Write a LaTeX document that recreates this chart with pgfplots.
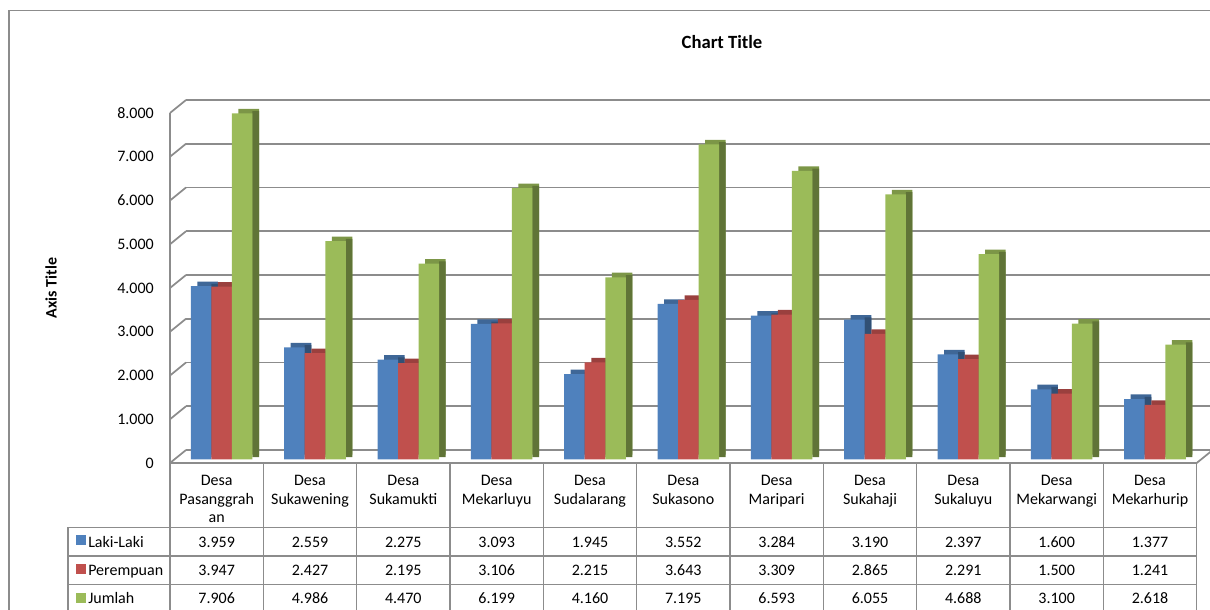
\documentclass[border=0pt]{standalone}
\usepackage{fontspec}
\setmainfont{Carlito}
\usepackage{pgfplots}
\pgfplotsset{compat=1.18}
\usepackage{pgfplotstable}

\definecolor{cblue}{HTML}{4F81BD}
\definecolor{cred}{HTML}{C0504D}
\definecolor{cgreen}{HTML}{9BBB59}
\definecolor{lgray}{RGB}{140,140,140}

\pgfplotstableread{
idx lk pr jm
0 3959 3947 7906
1 2559 2427 4986
2 2275 2195 4470
3 3093 3106 6199
4 1945 2215 4160
5 3552 3643 7195
6 3284 3309 6593
7 3190 2865 6055
8 2397 2291 4688
9 1600 1500 3100
10 1377 1241 2618
}\data

% #1 column, #2 colour, #3 top shift, #4 side shift, #5 front shift
\newcommand\barseries[5]{%
  \addplot[ybar, bar width=15.4pt, bar shift=#3pt, xshift=3.75pt, yshift=6.2pt, fill=#2!80!black, draw=none] table[x=idx,y=#1]{\data};
  \addplot[ybar, bar width=4.9pt, bar shift=#4pt, xshift=3.75pt, yshift=4.5pt, fill=#2!62!black, draw=none] table[x=idx,y=#1]{\data};
  \addplot[ybar, bar width=15.4pt, bar shift=#5pt, xshift=3.75pt, yshift=2.8pt, fill=#2, draw=none] table[x=idx,y=#1]{\data};
}

\begin{document}
\begin{tikzpicture}
\useasboundingbox (0pt,0pt) rectangle (907.5pt,-457.5pt);
\clip (0pt,0pt) rectangle (907.5pt,-457.5pt);

% back wall grid
\begin{axis}[
  at={(139.5pt,-337.5pt)}, anchor=south west,
  scale only axis, width=770pt, height=262.5pt,
  xmin=-0.5, xmax=10.5, ymin=0, ymax=8000,
  ytick={0,1000,...,8000}, yticklabels={}, xtick=\empty,
  ymajorgrids, major grid style={lgray, line width=1.3pt},
  major tick length=0pt, axis line style={draw=none}, clip=false,
]
\end{axis}

% front axis with bars
\begin{axis}[
  at={(127.5pt,-347.25pt)}, anchor=south west,
  scale only axis, width=770pt, height=262.5pt,
  xmin=-0.5, xmax=10.5, ymin=0, ymax=8000,
  ytick={0,1000,...,8000}, xtick=\empty,
  /pgf/number format/1000 sep={.},
  /pgf/number format/assume math mode=true,
  yticklabel style={font=\fontsize{12}{14}\selectfont, inner sep=0pt, anchor=east, xshift=-12pt},
  major tick length=0pt, axis line style={draw=none}, clip=false,
]
\barseries{lk}{cblue}{-10.5}{-5.25}{-15.4}
\barseries{pr}{cred}{4.9}{10.15}{0}
\barseries{jm}{cgreen}{20.3}{25.55}{15.4}
\end{axis}

\begin{scope}[x=0.75pt, y=-0.75pt, font=\fontsize{12}{13.9}\selectfont]
  % outer border
  \draw[lgray, line width=1.1pt] (9,10.7) rectangle (1240,650);
  % title
  \node[font=\fontsize{14}{17}\selectfont\bfseries] at (722,42) {Chart Title};
  \node[font=\fontsize{12}{14}\selectfont\bfseries, rotate=90] at (51,288) {Axis Title};
  % left wall connectors
  \foreach \k in {0,...,8} {
    \draw[lgray, line width=1.3pt] (170,{463-43.75*\k}) -- (186,{450-43.75*\k});
  }
  \draw[lgray, line width=1.3pt] (170,113) -- (170,615);
  \draw[lgray, line width=1.3pt] (170,463) -- (1196.7,463) -- (1212.7,450);
  % table lines
  \foreach \yy in {527.3,556,584.7} {
    \draw[lgray, line width=1.1pt] (68,\yy) -- (1196.7,\yy);
  }
  \draw[lgray, line width=1.1pt] (68,527.3) -- (68,615);
  \foreach \k in {1,...,11} {
    \draw[lgray, line width=1.1pt] ({170+93.333*\k},463) -- ({170+93.333*\k},615);
  }
  % header
  \foreach \i/\name in {0/{Desa\\Pasanggrah\\an},1/{Desa\\Sukawening},2/{Desa\\Sukamukti},
      3/{Desa\\Mekarluyu},4/{Desa\\Sudalarang},5/{Desa\\Sukasono},6/{Desa\\Maripari},
      7/{Desa\\Sukahaji},8/{Desa\\Sukaluyu},9/{Desa\\Mekarwangi},10/{Desa\\Mekarhurip}} {
    \node[anchor=north, align=center, inner sep=0pt] at ({170+93.333*(\i+0.5)},475) {\name};
  }
  % values
  \foreach \i in {0,...,10} {
    \pgfplotstablegetelem{\i}{lk}\of\data
    \node[anchor=base, inner sep=0pt] at ({170+93.333*(\i+0.5)},547) {\pgfmathprintnumber[1000 sep={.},assume math mode=true]{\pgfplotsretval}};
    \pgfplotstablegetelem{\i}{pr}\of\data
    \node[anchor=base, inner sep=0pt] at ({170+93.333*(\i+0.5)},575.5) {\pgfmathprintnumber[1000 sep={.},assume math mode=true]{\pgfplotsretval}};
    \pgfplotstablegetelem{\i}{jm}\of\data
    \node[anchor=base, inner sep=0pt] at ({170+93.333*(\i+0.5)},603.5) {\pgfmathprintnumber[1000 sep={.},assume math mode=true]{\pgfplotsretval}};
  }
  % legend keys
  \fill[cblue] (76,535) rectangle (86,545);
  \fill[cred] (76,564) rectangle (86,574);
  \fill[cgreen] (76,593) rectangle (86,603);
  \node[anchor=base west, inner sep=0pt] at (88,547) {Laki-Laki};
  \node[anchor=base west, inner sep=0pt] at (88,575.5) {Perempuan};
  \node[anchor=base west, inner sep=0pt] at (88,603.5) {Jumlah};
\end{scope}
\end{tikzpicture}
\end{document}
